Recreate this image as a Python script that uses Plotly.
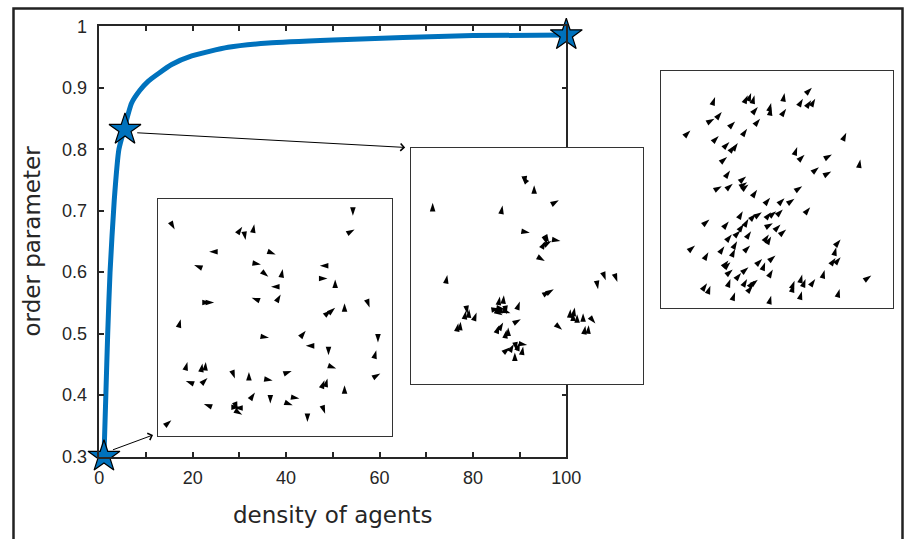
import plotly.graph_objects as go

W, H = 912, 539

# ---------------- data ----------------
density = [1, 1.4, 1.8, 2.3, 3.2, 4.2, 5.3, 6.9, 8.7, 10.5, 12.6, 15.5, 19.8, 27.6, 36.2, 50, 65, 80, 100]
order = [0.3, 0.4, 0.5, 0.6, 0.717, 0.8, 0.832, 0.875, 0.896, 0.911, 0.923, 0.938, 0.952, 0.966, 0.973, 0.978, 0.982, 0.985, 0.986]

star_density = [1, 5.5, 100]
star_order = [0.3, 0.832, 0.986]

x_tickvals = [0, 10, 20, 30, 40, 50, 60, 70, 80, 90, 100]
x_ticktext = ["0", "", "20", "", "40", "", "60", "", "80", "", "100"]
y_tickvals = [0.3, 0.4, 0.5, 0.6, 0.7, 0.8, 0.9, 1.0]
y_ticktext = ["0.3", "0.4", "0.5", "0.6", "0.7", "0.8", "0.9", "1"]

# agents in each inset: x, y (inset units, y downward) and heading (deg clockwise from up)
ins1_x = [60, 262, 298, 272, 593, 598, 163, 118, 318, 362, 383, 340, 348, 377, 290, 168, 178, 494, 517,
          540, 78, 528, 540, 568, 643, 452, 342, 452, 668, 663, 520, 98, 143, 153, 282, 410, 543, 93,
          158, 240, 353, 508, 517, 568, 675, 300, 147, 238, 255, 248, 262, 346, 433, 413, 510, 457, 50]
ins1_y = [103, 95, 88, 135, 62, 103, 170, 210, 208, 178, 222, 245, 275, 298, 308, 322, 322, 212, 250,
          253, 372, 345, 338, 324, 337, 407, 428, 452, 442, 465, 480, 500, 505, 500, 530, 527, 520, 557,
          548, 550, 556, 555, 550, 570, 535, 592, 626, 638, 636, 645, 658, 625, 610, 630, 655, 680, 675]
ins1_a = [150, 35, 10, 170, 180, 60, 270, 290, 100, 110, 10, 130, 270, 30, 290, 90, 90, 270, 90,
          0, 15, 50, 50, 0, 160, 40, 100, 270, 180, 15, 180, 15, 10, 5, 0, 70, 110, 290,
          45, 160, 100, 20, 15, 0, 60, 35, 290, 270, 90, 160, 120, 180, 100, 110, 160, 180, 50]

ins2_x = [345, 358, 383, 78, 288, 457, 370, 418, 428, 435, 422, 462, 415, 122, 598, 633, 575, 432, 442,
          280, 292, 340, 178, 188, 183, 210, 155, 162, 262, 280, 295, 300, 312, 288, 278, 290, 300, 305,
          343, 467, 492, 500, 505, 512, 530, 537, 547, 567, 310, 322, 330, 340, 350, 362, 325]
ins2_y = [100, 125, 127, 180, 188, 172, 270, 295, 300, 295, 305, 295, 355, 397, 413, 418, 440, 445, 440,
          462, 458, 477, 505, 500, 515, 510, 542, 538, 505, 498, 500, 515, 512, 518, 548, 540, 562, 555,
          530, 562, 500, 510, 495, 515, 512, 550, 548, 543, 615, 605, 625, 600, 612, 608, 630]
ins2_a = [320, 170, 0, 0, 10, 60, 100, 30, 150, 60, 160, 100, 120, 10, 160, 160, 170, 60, 60,
          10, 5, 20, 10, 5, 170, 20, 10, 5, 270, 80, 100, 170, 110, 120, 20, 30, 10, 0,
          60, 130, 5, 0, 10, 0, 0, 10, 5, 140, 50, 30, 170, 20, 10, 100, 0]

ins3_x = [172, 270, 280, 290, 380, 435, 462, 460, 472, 300, 340, 340, 385, 192, 170, 232, 307, 98, 268,
          565, 183, 215, 232, 240, 418, 440, 522, 607, 208, 483, 520, 217, 265, 268, 272, 192, 225, 298,
          433, 337, 380, 410, 457, 255, 295, 312, 340, 355, 375, 155, 213, 258, 272, 248, 280, 345, 368,
          385, 333, 340, 222, 238, 112, 152, 200, 232, 277, 548, 535, 212, 218, 313, 322, 353, 533, 548,
          225, 250, 272, 345, 500, 640, 148, 158, 218, 268, 290, 300, 285, 410, 408, 433, 443, 472, 232,
          340, 432, 545]
ins3_y = [90, 85, 78, 85, 78, 95, 62, 100, 95, 120, 108, 120, 125, 135, 155, 163, 155, 190, 185,
          197, 207, 225, 235, 228, 240, 263, 262, 277, 270, 300, 313, 310, 328, 345, 352, 357, 350, 368,
          357, 392, 393, 395, 420, 432, 440, 435, 435, 432, 427, 457, 463, 470, 455, 490, 492, 468, 472,
          487, 502, 508, 502, 522, 535, 555, 537, 545, 535, 517, 540, 580, 585, 575, 585, 565, 572, 570,
          607, 617, 600, 607, 608, 625, 648, 655, 635, 635, 640, 637, 655, 640, 650, 622, 635, 635, 675,
          685, 672, 665]
ins3_a = [20, 25, 20, 15, 10, 30, 45, 35, 30, 40, 15, 10, 35, 40, 60, 45, 40, 45, 35,
          25, 45, 45, 40, 35, 20, 45, 60, 10, 50, 50, 60, 35, 50, 55, 50, 60, 50, 35,
          55, 40, 45, 55, 40, 30, 45, 55, 40, 50, 45, 50, 40, 35, 30, 45, 35, 60, 45,
          50, 35, 30, 40, 30, 50, 30, 35, 25, 45, 40, 15, 40, 45, 45, 20, 50, 35, 40,
          50, 40, 50, 30, 15, 55, 35, 20, 20, 30, 40, 50, 40, 20, 15, 15, 20, 35, 20,
          15, 15, 15]

# ---------------- layout helpers ----------------
def xdom(a, b):
    return [a / W, b / W]

def ydom(top, bottom):
    return [1 - bottom / H, 1 - top / H]

AX = "#262626"
TICKFONT = dict(family="Liberation Sans, Arial, sans-serif", size=18, color=AX)
TITLEFONT = dict(family="DejaVu Sans, sans-serif", size=23, color=AX)

fig = go.Figure()

fig.add_trace(go.Scatter(x=density, y=order, mode="lines",
                         line=dict(color="#0072BD", width=5, shape="spline", smoothing=0.6),
                         xaxis="x", yaxis="y", showlegend=False, hoverinfo="skip"))
fig.add_trace(go.Scatter(x=star_density, y=star_order, mode="markers",
                         marker=dict(symbol="star", size=24, color="#0072BD",
                                     line=dict(color="black", width=1.2)),
                         xaxis="x", yaxis="y", showlegend=False, cliponaxis=False))

insets = [
    (ins1_x, ins1_y, ins1_a, "x2", "y2", [10, 710], [722, 12], xdom(158, 392), ydom(199, 436)),
    (ins2_x, ins2_y, ins2_a, "x3", "y3", [13, 710], [725, 15], xdom(411, 643), ydom(148, 384)),
    (ins3_x, ins3_y, ins3_a, "x4", "y4", [10, 705], [722, 12], xdom(661, 893), ydom(71, 308)),
]

layout_axes = {}
for i, (xs, ys, angs, xa, ya, xr, yr, xd, yd) in enumerate(insets):
    fig.add_trace(go.Scatter(x=xs, y=ys, mode="markers", xaxis=xa, yaxis=ya,
                             marker=dict(symbol="arrow", size=9, angle=angs, color="black",
                                         line=dict(width=0)),
                             showlegend=False, hoverinfo="skip"))
    n = i + 2
    layout_axes[f"xaxis{n}"] = dict(domain=xd, range=xr, showgrid=False, zeroline=False,
                                    showticklabels=False, ticks="", showline=True, mirror=True,
                                    linecolor="#333333", linewidth=1.2, anchor=f"y{n}", fixedrange=True)
    layout_axes[f"yaxis{n}"] = dict(domain=yd, range=yr, showgrid=False, zeroline=False,
                                    showticklabels=False, ticks="", showline=True, mirror=True,
                                    linecolor="#333333", linewidth=1.2, anchor=f"x{n}", fixedrange=True)

fig.update_layout(
    width=W, height=H,
    margin=dict(l=0, r=0, t=0, b=0),
    paper_bgcolor="white", plot_bgcolor="white",
    xaxis=dict(domain=xdom(99.3, 566.3), range=[0, 100], tickvals=x_tickvals, ticktext=x_ticktext,
               ticks="inside", ticklen=5, tickwidth=1.5, tickcolor=AX, showline=True, mirror="ticks",
               linecolor=AX, linewidth=1.5, showgrid=False, zeroline=False, tickfont=TICKFONT,
               ticklabelstandoff=4,
               title=dict(text="density of agents", font=TITLEFONT, standoff=20), anchor="y",
               automargin=False),
    yaxis=dict(domain=ydom(26.4, 456.5), range=[0.3, 1.0], tickvals=y_tickvals, ticktext=y_ticktext,
               ticks="inside", ticklen=5, tickwidth=1.5, tickcolor=AX, showline=True, mirror="ticks",
               linecolor=AX, linewidth=1.5, showgrid=False, zeroline=False, tickfont=TICKFONT,
               ticklabelstandoff=7,
               title=dict(text="order parameter", font=TITLEFONT, standoff=15), anchor="x",
               automargin=False),
    **layout_axes,
)

# outer frame
fig.add_shape(type="rect", xref="paper", yref="paper", x0=13.5 / W, x1=902.5 / W, y0=-0.02, y1=1 - 8.5 / H,
              line=dict(color="#222222", width=2.5), layer="above")

# connector arrows (tail at star, head at inset corner)
arrows = [((11.5, 0.335), (2.6, 0.31)), ((65.5, 0.803), (7.8, 0.827)), ((119.2, 0.930), (102.3, 0.979))]
for (hx, hy), (tx, ty) in arrows:
    fig.add_annotation(x=hx, y=hy, ax=tx, ay=ty, xref="x", yref="y", axref="x", ayref="y",
                       showarrow=True, arrowhead=4, arrowsize=1.4, arrowwidth=1, arrowcolor="black", text="")

fig.write_html("out.html", config={"displayModeBar": False})
with open("out.html", "r", encoding="utf-8") as f:
    html = f.read()
html = html.replace("<head>", "<head><style>html,body{margin:0;padding:0;overflow:hidden;}</style>", 1)
with open("out.html", "w", encoding="utf-8") as f:
    f.write(html)
